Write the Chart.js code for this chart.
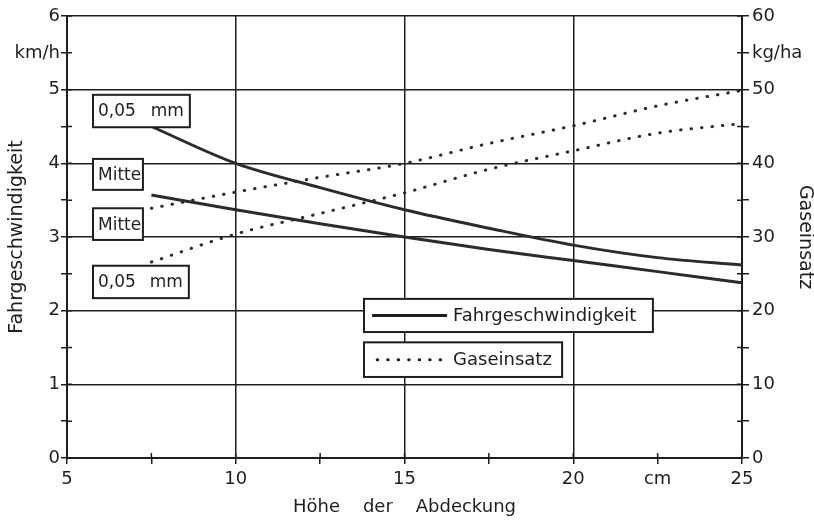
<!DOCTYPE html>
<html>
<head>
<meta charset="utf-8">
<script src="https://cdn.jsdelivr.net/npm/chart.js@4.4.1/dist/chart.umd.min.js"></script>
<style>
  html, body { margin: 0; padding: 0; background: #fff; }
  #wrap { width: 814px; height: 521px; }
</style>
</head>
<body>
<div id="wrap"><canvas id="myChart" width="814" height="521"></canvas></div>
<script>
// Höhe der Abdeckung (cm)
const xValues = [7.5, 10, 12.5, 15, 17.5, 20, 22.5, 25];

// Fahrgeschwindigkeit (km/h)
const speed005 = [4.50, 4.00, 3.67, 3.37, 3.12, 2.89, 2.72, 2.62];
const speedMitte = [3.57, 3.37, 3.18, 3.00, 2.83, 2.68, 2.53, 2.38];

// Gaseinsatz (kg/ha)
const gasMitte = [33.9, 36.1, 38.1, 40.0, 42.7, 45.1, 47.8, 49.9];
const gas005 = [26.6, 30.4, 33.2, 36.0, 39.2, 41.7, 44.1, 45.4];

// tick labels
const xTickValues = [5, 10, 15, 20, 22.5, 25];
const xTickText = ['5', '10', '15', '20', 'cm', '25'];
const leftTickValues = [0, 1, 2, 3, 4, 5, 5.5, 6];
const leftTickText = ['0', '1', '2', '3', '4', '5', 'km/h', '6'];
const rightTickValues = [0, 10, 20, 30, 40, 50, 55, 60];
const rightTickText = ['0', '10', '20', '30', '40', '50', 'kg/ha', '60'];

const ink = '#1e1e1e';
const fontFamily = '"DejaVu Sans", sans-serif';

function pairs(ys) {
    return xValues.map(function (x, i) { return { x: x, y: ys[i] }; });
}

function labelFor(values, texts, v) {
    const i = values.indexOf(v);
    return i === -1 ? '' : texts[i];
}

const solidStyle = {
    borderColor: '#2b2b2b',
    borderWidth: 3,
    pointRadius: 0,
    cubicInterpolationMode: 'monotone',
    fill: false
};
const dotStyle = {
    borderColor: '#2b2b2b',
    borderWidth: 3,
    borderDash: [0.5, 10],
    borderCapStyle: 'round',
    pointRadius: 0,
    cubicInterpolationMode: 'monotone',
    fill: false
};

// little boxes with curve names and the two legend boxes
const tagBoxes = [
    { x0: 5.77, x1: 8.64, y0: 4.93, y1: 4.49, left: '0,05', right: 'mm' },
    { x0: 5.77, x1: 7.25, y0: 4.06, y1: 3.64, left: 'Mitte' },
    { x0: 5.77, x1: 7.25, y0: 3.39, y1: 2.96, left: 'Mitte' },
    { x0: 5.77, x1: 8.61, y0: 2.61, y1: 2.17, left: '0,05', right: 'mm' }
];
const legendTextAt = 16.44;
const legendBoxes = [
    { x0: 13.8, x1: 22.36, y0: 2.16, y1: 1.71, s0: 14.04, s1: 16.26, dash: false, text: 'Fahrgeschwindigkeit' },
    { x0: 13.8, x1: 19.67, y0: 1.57, y1: 1.10, s0: 14.19, s1: 16.11, dash: true, text: 'Gaseinsatz' }
];

const crossTicks = {
    id: 'crossTicks',
    afterDatasetsDraw(chart) {
        const ctx = chart.ctx;
        const xs = chart.scales.x, yl = chart.scales.y, yr = chart.scales.y2;
        const area = chart.chartArea;
        ctx.save();
        ctx.strokeStyle = ink;
        ctx.lineWidth = 1.5;
        ctx.beginPath();
        xs.ticks.forEach(function (t) {
            const px = xs.getPixelForValue(t.value);
            ctx.moveTo(px, area.bottom);
            ctx.lineTo(px, area.bottom - 5);
        });
        yl.ticks.forEach(function (t) {
            const py = yl.getPixelForValue(t.value);
            ctx.moveTo(area.left, py);
            ctx.lineTo(area.left + 5, py);
        });
        yr.ticks.forEach(function (t) {
            const py = yr.getPixelForValue(t.value);
            ctx.moveTo(area.right, py);
            ctx.lineTo(area.right - 5, py);
        });
        ctx.stroke();
        ctx.restore();
    },
    afterDraw(chart) {
        const ctx = chart.ctx;
        const xs = chart.scales.x, ys = chart.scales.y;
        ctx.save();
        ctx.lineWidth = 2;
        ctx.strokeStyle = ink;
        ctx.fillStyle = ink;
        ctx.textBaseline = 'middle';

        tagBoxes.forEach(function (b) {
            const l = xs.getPixelForValue(b.x0), r = xs.getPixelForValue(b.x1);
            const t = ys.getPixelForValue(b.y0), bt = ys.getPixelForValue(b.y1);
            ctx.fillStyle = '#fff';
            ctx.fillRect(l, t, r - l, bt - t);
            ctx.strokeRect(l, t, r - l, bt - t);
            ctx.fillStyle = ink;
            ctx.font = '17px ' + fontFamily;
            ctx.textAlign = 'left';
            ctx.fillText(b.left, l + 5, (t + bt) / 2 + 1);
            if (b.right) {
                ctx.textAlign = 'right';
                ctx.fillText(b.right, r - 6, (t + bt) / 2 + 1);
            }
        });

        legendBoxes.forEach(function (b) {
            const l = xs.getPixelForValue(b.x0), r = xs.getPixelForValue(b.x1);
            const t = ys.getPixelForValue(b.y0), bt = ys.getPixelForValue(b.y1);
            const mid = (t + bt) / 2;
            ctx.fillStyle = '#fff';
            ctx.fillRect(l, t, r - l, bt - t);
            ctx.lineWidth = 2;
            ctx.setLineDash([]);
            ctx.strokeRect(l, t, r - l, bt - t);
            ctx.beginPath();
            ctx.lineWidth = 3;
            if (b.dash) {
                ctx.setLineDash([0.5, 10]);
                ctx.lineCap = 'round';
            } else {
                ctx.lineCap = 'butt';
            }
            ctx.moveTo(xs.getPixelForValue(b.s0), mid);
            ctx.lineTo(xs.getPixelForValue(b.s1), mid);
            ctx.stroke();
            ctx.setLineDash([]);
            ctx.fillStyle = ink;
            ctx.font = '18px ' + fontFamily;
            ctx.textAlign = 'left';
            ctx.fillText(b.text, xs.getPixelForValue(legendTextAt), mid + 1);
        });
        ctx.restore();
    }
};

const ctx = document.getElementById('myChart').getContext('2d');
const myChart = new Chart(ctx, {
    type: 'line',
    data: {
        datasets: [
            Object.assign({ label: 'Fahrgeschwindigkeit 0,05 mm', data: pairs(speed005), yAxisID: 'y' }, solidStyle),
            Object.assign({ label: 'Fahrgeschwindigkeit Mitte', data: pairs(speedMitte), yAxisID: 'y' }, solidStyle),
            Object.assign({ label: 'Gaseinsatz Mitte', data: pairs(gasMitte), yAxisID: 'y2' }, dotStyle),
            Object.assign({ label: 'Gaseinsatz 0,05 mm', data: pairs(gas005), yAxisID: 'y2' }, dotStyle)
        ]
    },
    options: {
        responsive: false,
        animation: false,
        layout: { padding: { top: 16, left: 0, right: 0, bottom: 0 } },
        plugins: {
            legend: { display: false },
            tooltip: { enabled: false }
        },
        scales: {
            x: {
                type: 'linear',
                min: 5,
                max: 25,
                afterFit: function (s) { s.height = 63; },
                afterBuildTicks: function (s) {
                    s.ticks = [5, 7.5, 10, 12.5, 15, 17.5, 20, 22.5, 25].map(function (v) { return { value: v }; });
                },
                ticks: {
                    autoSkip: false,
                    maxRotation: 0,
                    padding: 5,
                    color: ink,
                    font: { family: fontFamily, size: 18 },
                    callback: function (v) { return labelFor(xTickValues, xTickText, v); }
                },
                grid: {
                    color: function (c) { return c.tick && c.tick.value % 5 === 0 ? ink : 'rgba(0,0,0,0)'; },
                    tickColor: ink,
                    tickLength: 6,
                    lineWidth: 1.5
                },
                border: { color: ink, width: 2 },
                title: {
                    display: true,
                    text: 'Höhe    der    Abdeckung',
                    color: ink,
                    font: { family: fontFamily, size: 18, lineHeight: 1.2 },
                    padding: { top: 0, bottom: 3 }
                }
            },
            y: {
                position: 'left',
                min: 0,
                max: 6,
                afterFit: function (s) { s.width = 67; },
                ticks: {
                    stepSize: 0.5,
                    autoSkip: false,
                    padding: 1,
                    color: ink,
                    font: { family: fontFamily, size: 18 },
                    callback: function (v) { return labelFor(leftTickValues, leftTickText, v); }
                },
                grid: {
                    color: function (c) { return c.tick && Number.isInteger(c.tick.value) ? ink : 'rgba(0,0,0,0)'; },
                    tickColor: ink,
                    tickLength: 6,
                    lineWidth: 1.5
                },
                border: { color: ink, width: 2 },
                title: {
                    display: true,
                    text: 'Fahrgeschwindigkeit',
                    color: ink,
                    font: { family: fontFamily, size: 19, lineHeight: 1 },
                    padding: { top: 8, bottom: 0 }
                }
            },
            y2: {
                position: 'right',
                min: 0,
                max: 60,
                afterFit: function (s) { s.width = 72; },
                ticks: {
                    stepSize: 5,
                    autoSkip: false,
                    padding: 3,
                    color: ink,
                    font: { family: fontFamily, size: 18 },
                    callback: function (v) { return labelFor(rightTickValues, rightTickText, v); }
                },
                grid: {
                    drawOnChartArea: false,
                    color: ink,
                    tickColor: ink,
                    tickLength: 7,
                    lineWidth: 1.5
                },
                border: { color: ink, width: 2 },
                title: {
                    display: true,
                    text: 'Gaseinsatz',
                    color: ink,
                    font: { family: fontFamily, size: 19, lineHeight: 1 },
                    padding: { top: 0, bottom: 0 }
                }
            }
        }
    },
    plugins: [crossTicks]
});
</script>
</body>
</html>
